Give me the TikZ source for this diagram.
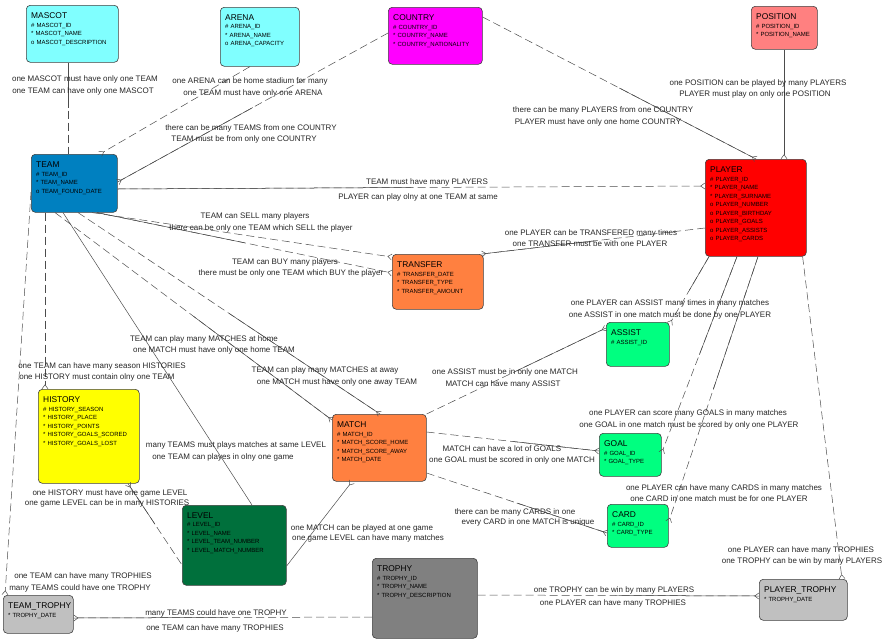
\documentclass[tikz,border=0pt]{standalone}
\usepackage{fontspec}
\setmainfont{Liberation Sans}
\usetikzlibrary{arrows.meta,calc}

\definecolor{cyanbox}{HTML}{80FFFF}
\definecolor{countrymag}{HTML}{FF00FF}
\definecolor{positionpink}{HTML}{FF8080}
\definecolor{teamblue}{HTML}{0080C0}
\definecolor{playerred}{HTML}{FF0000}
\definecolor{orangebox}{HTML}{FF8040}
\definecolor{greenbox}{HTML}{00FF80}
\definecolor{historyyellow}{HTML}{FFFF00}
\definecolor{levelgreen}{HTML}{00703C}
\definecolor{trophygray}{HTML}{808080}
\definecolor{lightbox}{HTML}{C0C0C0}

\newcommand\etitle[1]{{\fontsize{8.4}{8.5}\selectfont #1}}

\tikzset{crow/.tip={Straight Barb[reversed,length=4pt,width=6pt]}}

\begin{document}
\begin{tikzpicture}[x=1pt,y=-1pt,
    entity/.style={draw=black!75,rounded corners=4pt,anchor=north west,line width=0.6pt,inner sep=0pt},
    etext/.style={anchor=north west,inner sep=0pt,align=left,text width=100pt,font=\fontsize{6}{8.5}\selectfont},
    lbl/.style={anchor=base,yshift=-3pt,inner sep=0pt,font=\fontsize{8}{9}\selectfont,text=black!85},
    rel/.style={draw=black!70,line width=0.5pt},
    opt/.style={rel,dash pattern=on 8pt off 4pt}]

\useasboundingbox (0,0) rectangle (885,640);

% entities
\node[entity,fill=cyanbox,minimum width=92,minimum height=57] (mascot) at (26,5) {};
\node[entity,fill=cyanbox,minimum width=79,minimum height=59] (arena) at (220,7) {};
\node[entity,fill=countrymag,minimum width=94,minimum height=57] (country) at (388,7) {};
\node[entity,fill=positionpink,minimum width=66,minimum height=43] (position) at (751,6) {};
\node[entity,fill=teamblue,minimum width=86,minimum height=58] (team) at (31,154) {};
\node[entity,fill=playerred,minimum width=101,minimum height=97] (player) at (705,159) {};
\node[entity,fill=orangebox,minimum width=91,minimum height=55] (transfer) at (392,254) {};
\node[entity,fill=greenbox,minimum width=63,minimum height=44] (assist) at (606,322) {};
\node[entity,fill=historyyellow,minimum width=101,minimum height=94] (history) at (38,389) {};
\node[entity,fill=orangebox,minimum width=94,minimum height=67] (match) at (332,414) {};
\node[entity,fill=greenbox,minimum width=62,minimum height=43] (goal) at (599,433) {};
\node[entity,fill=greenbox,minimum width=61,minimum height=43] (card) at (607,504) {};
\node[entity,fill=levelgreen,minimum width=104,minimum height=80] (level) at (182,505) {};
\node[entity,fill=trophygray,minimum width=105,minimum height=80] (trophy) at (372,558) {};
\node[entity,fill=lightbox,minimum width=70,minimum height=38] (teamtrophy) at (3,595) {};
\node[entity,fill=lightbox,minimum width=88,minimum height=41] (playertrophy) at (759,579) {};

% entity texts
\node[etext] (mascot-t) at ($(mascot.north west)+(5,7.5)$) {\etitle{MASCOT}\\\# MASCOT\_ID\\{}* MASCOT\_NAME\\o MASCOT\_DESCRIPTION};
\node[etext] (arena-t) at ($(arena.north west)+(5,7.5)$) {\etitle{ARENA}\\\# ARENA\_ID\\{}* ARENA\_NAME\\o ARENA\_CAPACITY};
\node[etext] (country-t) at ($(country.north west)+(5,7.5)$) {\etitle{COUNTRY}\\\# COUNTRY\_ID\\{}* COUNTRY\_NAME\\{}* COUNTRY\_NATIONALITY};
\node[etext] (position-t) at ($(position.north west)+(5,7.5)$) {\etitle{POSITION}\\\# POSITION\_ID\\{}* POSITION\_NAME};
\node[etext] (team-t) at ($(team.north west)+(5,7.8)$) {\etitle{TEAM}\\\# TEAM\_ID\\{}* TEAM\_NAME\\o TEAM\_FOUND\_DATE};
\node[etext] (player-t) at ($(player.north west)+(5,7.8)$) {\etitle{PLAYER}\\\# PLAYER\_ID\\{}* PLAYER\_NAME\\{}* PLAYER\_SURNAME\\o PLAYER\_NUMBER\\o PLAYER\_BIRTHDAY\\o PLAYER\_GOALS\\o PLAYER\_ASSISTS\\o PLAYER\_CARDS};
\node[etext] (transfer-t) at ($(transfer.north west)+(5,7.5)$) {\etitle{TRANSFER}\\\# TRANSFER\_DATE\\{}* TRANSFER\_TYPE\\{}* TRANSFER\_AMOUNT};
\node[etext] (assist-t) at ($(assist.north west)+(5,7.5)$) {\etitle{ASSIST}\\\# ASSIST\_ID};
\node[etext] (history-t) at ($(history.north west)+(5,7.5)$) {\etitle{HISTORY}\\\# HISTORY\_SEASON\\{}* HISTORY\_PLACE\\{}* HISTORY\_POINTS\\{}* HISTORY\_GOALS\_SCORED\\{}* HISTORY\_GOALS\_LOST};
\node[etext] (match-t) at ($(match.north west)+(5,7.5)$) {\etitle{MATCH}\\\# MATCH\_ID\\{}* MATCH\_SCORE\_HOME\\{}* MATCH\_SCORE\_AWAY\\{}* MATCH\_DATE};
\node[etext] (goal-t) at ($(goal.north west)+(5,7.5)$) {\etitle{GOAL}\\\# GOAL\_ID\\{}* GOAL\_TYPE};
\node[etext] (card-t) at ($(card.north west)+(5,7.5)$) {\etitle{CARD}\\\# CARD\_ID\\{}* CARD\_TYPE};
\node[etext] (level-t) at ($(level.north west)+(5,7.5)$) {\etitle{LEVEL}\\\# LEVEL\_ID\\{}* LEVEL\_NAME\\{}* LEVEL\_TEAM\_NUMBER\\{}* LEVEL\_MATCH\_NUMBER};
\node[etext] (trophy-t) at ($(trophy.north west)+(5,7.5)$) {\etitle{TROPHY}\\\# TROPHY\_ID\\{}* TROPHY\_NAME\\{}* TROPHY\_DESCRIPTION};
\node[etext] (teamtrophy-t) at ($(teamtrophy.north west)+(5,7.5)$) {\etitle{TEAM\_TROPHY}\\{}* TROPHY\_DATE};
\node[etext] (playertrophy-t) at ($(playertrophy.north west)+(5,7.5)$) {\etitle{PLAYER\_TROPHY}\\{}* TROPHY\_DATE};

% relations
\draw[opt] ($(mascot.south west)+(42,0)$) coordinate (mt1) -- ($(team.north west)+(37,0)$) coordinate (mt2);
\draw[rel] (mt1) -- ($(mt1)!.5!(mt2)$);

\draw[opt,-crow] ($(arena.south west)+(30,0)$) -- ($(team.north west)+(69,0)$);

\draw[opt,-crow] ($(country.north west)+(0,26)$) coordinate (ct1) -- ($(team.north east)+(0,28)$) coordinate (ct2);
\draw[rel] ($(ct1)!.5!(ct2)$) -- (ct2);

\draw[opt,-crow] ($(country.north east)+(0,10)$) coordinate (cp1) -- ($(player.north west)+(51,0)$) coordinate (cp2);
\draw[rel] ($(cp1)!.5!(cp2)$) -- (cp2);

\draw[rel,-crow] ($(position.south west)+(33,0)$) -- ($(player.north west)+(79,0)$);

\draw[opt,-crow] ($(team.north east)+(0,35)$) coordinate (tp1) -- ($(player.north west)+(0,27)$) coordinate (tp2);
\draw[rel] (tp1) -- ($(tp1)!.5!(tp2)$);

\draw[opt,-crow] ($(team.south west)+(61,0)$) -- ($(transfer.north west)+(0,3)$);

\draw[opt,-crow] ($(team.south west)+(66,0)$) coordinate (tb1) -- ($(transfer.north west)+(0,19)$) coordinate (tb2);
\draw[rel] (tb1) -- ($(tb1)!.5!(tb2)$);

\draw[opt,-crow] ($(player.north west)+(0,69)$) coordinate (pt1) -- ($(transfer.north east)+(-2,0)$) coordinate (pt2);
\draw[rel] ($(pt1)!.5!(pt2)$) -- (pt2);

\draw[opt,-crow] ($(player.south west)+(4,0)$) coordinate (pa1) -- ($(assist.north east)+(0,2)$) coordinate (pa2);
\draw[rel] (pa1) -- ($(pa1)!.5!(pa2)$);

\draw[opt,-crow] (match.north east) coordinate (ma1) -- ($(assist.north west)+(0,6)$) coordinate (ma2);
\draw[rel] ($(ma1)!.5!(ma2)$) -- (ma2);

\draw[opt,-crow] ($(player.south west)+(32,0)$) coordinate (pg1) -- ($(goal.north east)+(0,20)$) coordinate (pg2);
\draw[rel] (pg1) -- ($(pg1)!.5!(pg2)$);

\draw[opt,-crow] ($(player.south west)+(53,0)$) coordinate (pc1) -- ($(card.north east)+(0,18)$) coordinate (pc2);
\draw[rel] (pc1) -- ($(pc1)!.5!(pc2)$);

\draw[opt,-crow] ($(player.south east)+(-4,0)$) -- ($(playertrophy.north west)+(83,0)$);

\draw[opt,-crow] ($(match.north east)+(0,18)$) coordinate (mg1) -- ($(goal.north west)+(0,18)$) coordinate (mg2);
\draw[rel] ($(mg1)!.5!(mg2)$) -- (mg2);

\draw[opt,-crow] ($(match.north east)+(0,59)$) coordinate (mc1) -- ($(card.north west)+(0,29)$) coordinate (mc2);
\draw[rel] ($(mc1)!.5!(mc2)$) -- (mc2);

\draw[opt,-crow] ($(team.south west)+(24,0)$) coordinate (th1) -- ($(match.north west)+(0,6)$) coordinate (th2);
\draw[rel] ($(th1)!.5!(th2)$) -- (th2);

\draw[opt,-crow] ($(team.south west)+(47,0)$) coordinate (tw1) -- ($(match.north west)+(48,0)$) coordinate (tw2);
\draw[rel] ($(tw1)!.5!(tw2)$) -- (tw2);

\draw[rel] ($(team.south west)+(32,0)$) -- ($(level.north west)+(70,0)$);

\draw[opt,-crow] ($(team.south west)+(14,0)$) -- ($(history.north west)+(7,0)$);

\draw[opt,crow-] ($(history.south west)+(90,0)$) coordinate (hl1) -- ($(level.north west)+(0,60)$) coordinate (hl2);
\draw[rel] (hl1) -- ($(hl1)!.5!(hl2)$);

\draw[rel,crow-] ($(match.south west)+(20,0)$) -- ($(level.north east)+(0,61)$);

\draw[opt,-crow] ($(team.north west)+(0,38)$) -- ($(teamtrophy.north west)+(2,0)$);

\draw[opt,-crow] ($(trophy.north west)+(0,59)$) coordinate (tt1) -- ($(teamtrophy.north east)+(0,23)$) coordinate (tt2);
\draw[rel] ($(tt1)!.5!(tt2)$) -- (tt2);

\draw[opt,-crow] ($(trophy.north east)+(0,37)$) coordinate (tq1) -- ($(playertrophy.north west)+(0,17)$) coordinate (tq2);
\draw[rel] ($(tq1)!.5!(tq2)$) -- (tq2);

% relation texts
\node[lbl] (l1a) at (85,78) {one MASCOT must have only one TEAM};
\node[lbl] (l1b) at (83,90) {one TEAM can have only one MASCOT};
\node[lbl] (l2a) at (250,80) {one ARENA can be home stadium for many};
\node[lbl] (l2b) at (253,92) {one TEAM must have only one ARENA};
\node[lbl] (l3a) at (251,127) {there can be many TEAMS from one COUNTRY};
\node[lbl] (l3b) at (244,138) {TEAM must be from only one COUNTRY};
\node[lbl] (l4a) at (603,109) {there can be many PLAYERS from one COUNTRY};
\node[lbl] (l4b) at (598,121) {PLAYER must have only one home COUNTRY};
\node[lbl] (l5a) at (758,82) {one POSITION can be played by many PLAYERS};
\node[lbl] (l5b) at (755,93) {PLAYER must play on only one POSITION};
\node[lbl] (l6a) at (427,181) {TEAM must have many PLAYERS};
\node[lbl] (l6b) at (418,196) {PLAYER can play olny at one TEAM at same};
\node[lbl] (l7a) at (255,215) {TEAM can SELL many players};
\node[lbl] (l7b) at (261,227) {there can be only one TEAM which SELL the player};
\node[lbl] (l8a) at (285,261) {TEAM can BUY many players};
\node[lbl] (l8b) at (291,272) {there must be only one TEAM which BUY the player};
\node[lbl] (l9a) at (591,232) {one PLAYER can be TRANSFERED many times};
\node[lbl] (l9b) at (590,243) {one TRANSFER must be with one PLAYER};
\node[lbl] (l10a) at (670,302) {one PLAYER can ASSIST many times in many matches};
\node[lbl] (l10b) at (670,314) {one ASSIST in one match must be done by one PLAYER};
\node[lbl] (l11a) at (505,371) {one ASSIST must be in only one MATCH};
\node[lbl] (l11b) at (503,383) {MATCH can have many ASSIST};
\node[lbl] (l12a) at (688,412) {one PLAYER can score many GOALS in many matches};
\node[lbl] (l12b) at (689,424) {one GOAL in one match must be scored by only one PLAYER};
\node[lbl] (l13a) at (724,487) {one PLAYER can have many CARDS in many matches};
\node[lbl] (l13b) at (719,498) {one CARD in one match must be for one PLAYER};
\node[lbl] (l14a) at (801,549) {one PLAYER can have many TROPHIES};
\node[lbl] (l14b) at (802,560) {one TROPHY can be win by many PLAYERS};
\node[lbl] (l15a) at (502,448) {MATCH can have a lot of GOALS};
\node[lbl] (l15b) at (512,459) {one GOAL must be scored in only one MATCH};
\node[lbl] (l16a) at (515,511) {there can be many CARDS in one};
\node[lbl] (l16b) at (528,521) {every CARD in one MATCH is unique};
\node[lbl] (l17a) at (204,338) {TEAM can play many MATCHES at home};
\node[lbl] (l17b) at (214,349) {one MATCH must have only one home TEAM};
\node[lbl] (l18a) at (325,369) {TEAM can play many MATCHES at away};
\node[lbl] (l18b) at (337,381) {one MATCH must have only one away TEAM};
\node[lbl] (l19a) at (236,444) {many TEAMS must plays matches at same LEVEL};
\node[lbl] (l19b) at (223,456) {one TEAM can playes in olny one game};
\node[lbl] (l20a) at (102,365) {one TEAM can have many season HISTORIES};
\node[lbl] (l20b) at (97,376) {one HISTORY must contain olny one TEAM};
\node[lbl] (l21a) at (110,492) {one HISTORY must have one game LEVEL};
\node[lbl] (l21b) at (107,502) {one game LEVEL can be in many HISTORIES};
\node[lbl] (l22a) at (362,527) {one MATCH can be played at one game};
\node[lbl] (l22b) at (368,537) {one game LEVEL can have many matches};
\node[lbl] (l23a) at (83,575) {one TEAM can have many TROPHIES};
\node[lbl] (l23b) at (80,587) {many TEAMS could have one TROPHY};
\node[lbl] (l24a) at (216,612) {many TEAMS could have one TROPHY};
\node[lbl] (l24b) at (215,627) {one TEAM can have many TROPHIES};
\node[lbl] (l25a) at (614,589) {one TROPHY can be win by many PLAYERS};
\node[lbl] (l25b) at (613,602) {one PLAYER can have many TROPHIES};

\end{tikzpicture}
\end{document}
